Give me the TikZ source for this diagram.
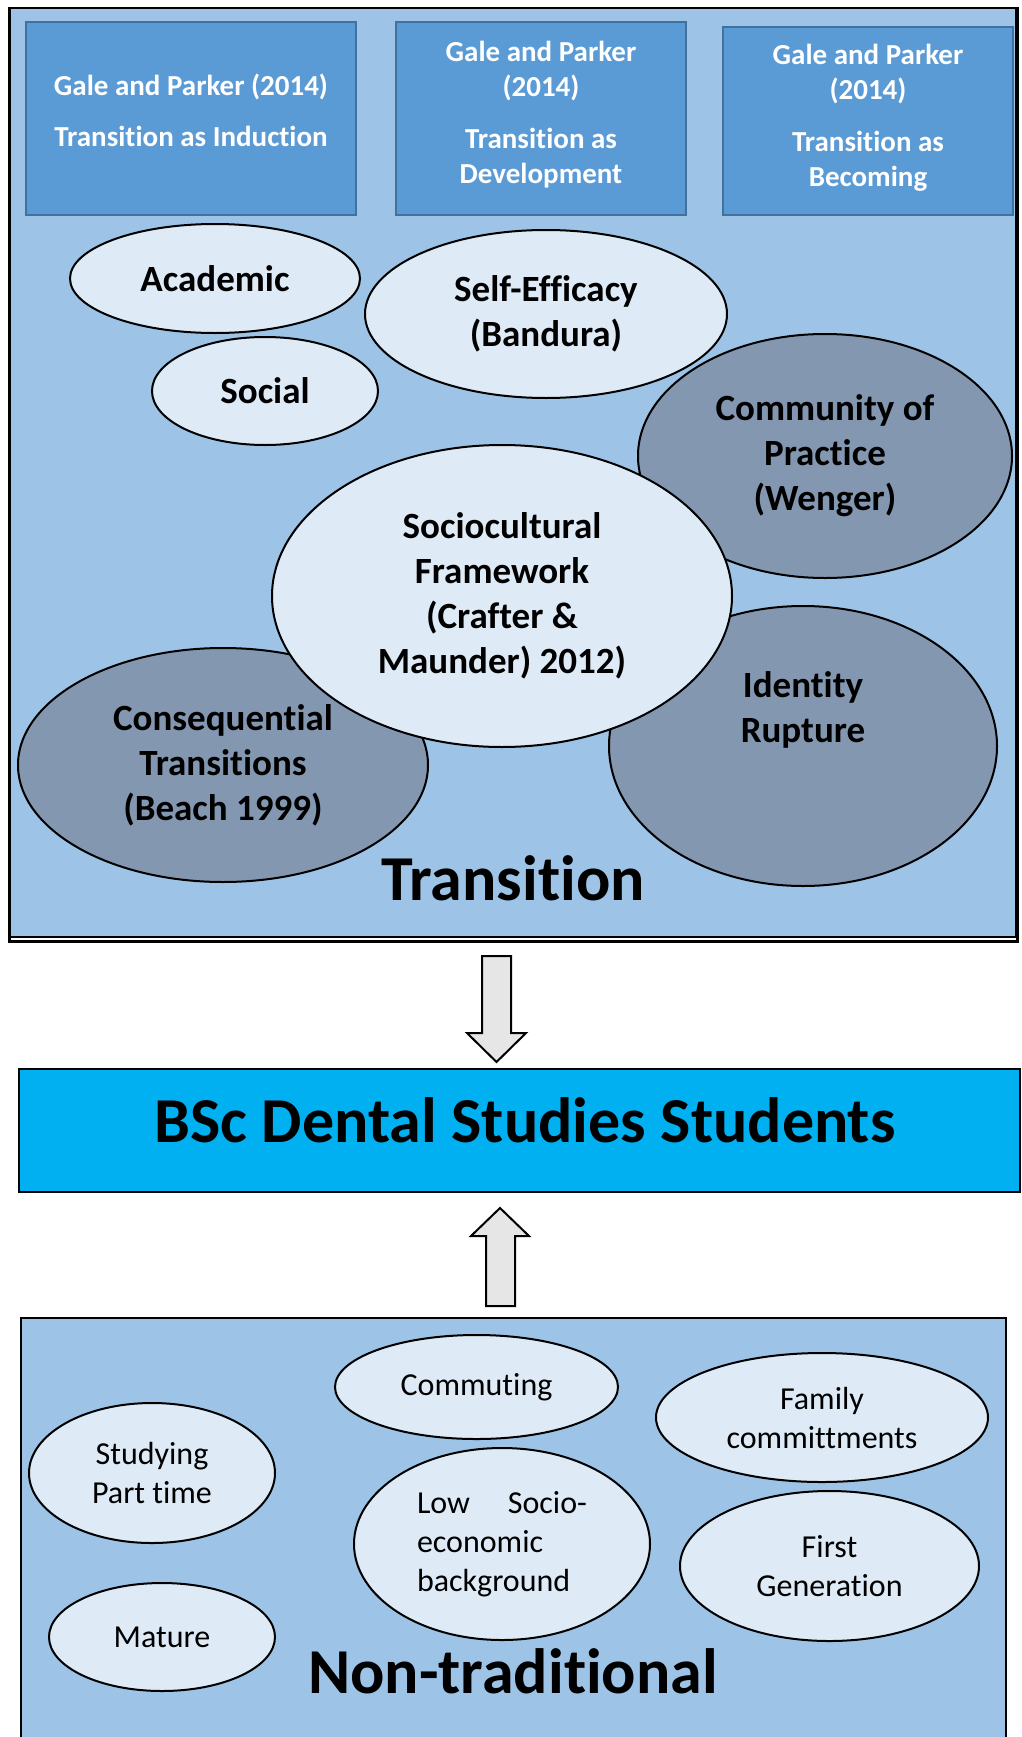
\documentclass[tikz,border=0pt]{standalone}
\usepackage{fontspec}
\setmainfont{Carlito}[RawFeature={-liga;-clig;-calt;-dlig}]
\usepackage{tikz}
\usetikzlibrary{shapes.geometric}
\usepackage{color}
\definecolor{framefill}{HTML}{9DC3E6}
\definecolor{galefill}{HTML}{5B9BD5}
\definecolor{galeline}{HTML}{41719C}
\definecolor{lightfill}{HTML}{DEEBF7}
\definecolor{darkfill}{HTML}{8497B0}
\definecolor{bscfill}{HTML}{00B0F0}
\definecolor{arrowfill}{HTML}{E7E6E6}

\begin{document}
\begin{tikzpicture}[x=1pt,y=-1pt,
  boxframe/.style={rectangle,draw=black,line width=2.5pt,fill=framefill,inner sep=0pt},
  galebox/.style={rectangle,draw=galeline,line width=1.5pt,fill=galefill,inner sep=0pt,
    text=white,font=\fontsize{29}{35}\selectfont\bfseries,align=center},
  bigell/.style={ellipse,draw=black,line width=2pt,inner sep=0pt,
    font=\fontsize{37}{45}\selectfont\bfseries,align=center},
  lightell/.style={bigell,fill=lightfill},
  darkell/.style={bigell,fill=darkfill},
  smallell/.style={ellipse,draw=black,line width=2pt,fill=lightfill,inner sep=0pt,
    font=\fontsize{32}{39}\selectfont,align=center},
  bigword/.style={font=\fontsize{64}{77}\selectfont\bfseries,anchor=base,inner sep=0pt},
  blockarrow/.style={draw=black,line width=2pt,fill=arrowfill,line join=miter}
]
\useasboundingbox (0,0) rectangle (1021,1737);
\clip (0,0) rectangle (1021,1737);

% transition frame
\draw[line width=2.5pt] (9.5,8) rectangle (1017.5,941.5);
\node[boxframe,minimum width=1006.5pt,minimum height=929pt] (trans) at (512.75,472.5) {};

\node[galebox,minimum width=330pt,minimum height=193pt,text depth=16pt] (induct) at (191,118.5)
  {Gale and Parker (2014)\\[16pt]Transition as Induction};
\node[galebox,minimum width=290pt,minimum height=193pt,text depth=12pt] (develop) at (541,118.5)
  {Gale and Parker\\(2014)\\[17pt]Transition as\\Development};
\node[galebox,minimum width=290pt,minimum height=188pt,text depth=12pt] (becoming) at (868,121)
  {Gale and Parker\\(2014)\\[17pt]Transition as\\Becoming};

\node[lightell,minimum width=290pt,minimum height=109pt] (academic) at (215,278.5) {Academic};
\node[lightell,minimum width=226pt,minimum height=108pt] (social) at (265,391) {Social};
\node[lightell,minimum width=362pt,minimum height=168pt] (selfeff) at (546,314) {Self-Efficacy\\(Bandura)};
\node[darkell,minimum width=374pt,minimum height=244pt] (commprac) at (825,456) {Community of\\Practice\\(Wenger)};
\node[darkell,minimum width=410pt,minimum height=234pt] (conseq) at (223,765) {Consequential\\Transitions\\(Beach 1999)};
\node[darkell,minimum width=388pt,minimum height=280pt] (rupture) at (803,746) {};
\node[bigell,draw=none,fill=none] (rupturetxt) at ([yshift=36pt]rupture.center) {Identity\\Rupture};
\node[lightell,minimum width=460pt,minimum height=302pt] (sociocult) at (502,596)
  {Sociocultural\\Framework\\(Crafter \&\\Maunder) 2012)};

\node[bigword] (translabel) at (513,900) {Transition};

% arrows
\draw[blockarrow] (482,956) -- (511,956) -- (511,1033) -- (526,1033) -- (496.5,1062)
  -- (467,1033) -- (482,1033) -- cycle;
\draw[blockarrow] (486,1306) -- (515,1306) -- (515,1236) -- (529,1236) -- (500,1208)
  -- (471,1236) -- (486,1236) -- cycle;

% students box
\node[rectangle,draw=black,line width=2pt,fill=bscfill,minimum width=1001pt,minimum height=123pt] (bsc) at (519.5,1130.5) {};
\node[bigword] (bsctxt) at (525,1142) {BSc Dental Studies Students};

% non-traditional frame
\node[boxframe,minimum width=985pt,minimum height=442pt] (nontrad) at (513.5,1539) {};

\node[smallell,minimum width=283pt,minimum height=104pt] (commuting) at (476.5,1387) {Commuting};
\node[smallell,minimum width=332pt,minimum height=129pt] (family) at (822,1417.5) {Family\\committments};
\node[smallell,minimum width=246pt,minimum height=140pt] (parttime) at (152,1473) {Studying\\Part time};
\node[smallell,minimum width=296pt,minimum height=192pt,text width=170pt,align=left] (lowses) at (502,1544)
  {Low\hfill Socio-\\economic\\background};
\node[smallell,minimum width=299pt,minimum height=150pt] (firstgen) at (829.5,1566) {First\\Generation};
\node[smallell,minimum width=226pt,minimum height=108pt] (mature) at (162,1637) {Mature};

\node[bigword] (ntlabel) at (513,1693) {Non-traditional};

\end{tikzpicture}
\end{document}
